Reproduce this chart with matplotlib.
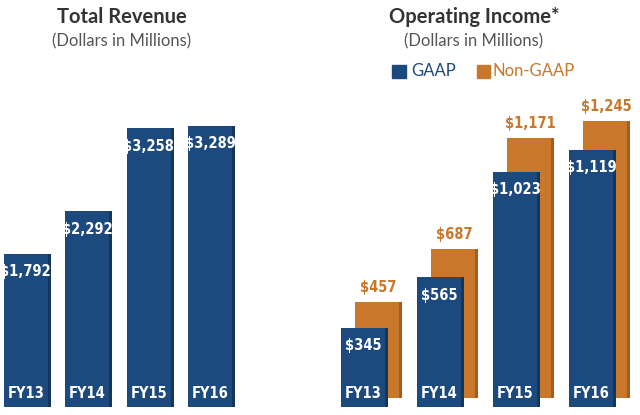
import matplotlib
matplotlib.use("Agg")
import matplotlib.pyplot as plt
import numpy as np

years = ["FY13", "FY14", "FY15", "FY16"]
revenue = [1792, 2292, 3258, 3289]
gaap = [345, 565, 1023, 1119]
non_gaap = [457, 687, 1171, 1245]

blue = "#1d4a7e"
blue_dark = "#143659"
orange = "#c9772b"
orange_dark = "#a35e1e"
grey = "#555555"
title_col = "#333333"

W, H = 640, 415
fig = plt.figure(figsize=(W / 100, H / 100), dpi=100)
fig.patch.set_facecolor("white")

narrow = ["DejaVu Sans"]
body = ["Lato", "DejaVu Sans"]
lab_kw = dict(fontsize=10.5, fontweight="bold", family=narrow, fontstretch="condensed",
              zorder=5, ha="center", va="center")


def px_axes(x0, y_top, w, h):
    # pixel box (from top-left) -> figure fraction
    return fig.add_axes([x0 / W, (H - y_top - h) / H, w / W, h / H])


def fmt(v):
    return "${:,}".format(v)


def draw_bars(ax, x, vals, width, col, side, bottom=0):
    ax.bar(x, vals, width=width, bottom=bottom, color=col, zorder=3, linewidth=0)
    sw = width * 0.06
    ax.bar(x + width / 2 - sw / 2, vals, width=sw, bottom=bottom, color=side,
           zorder=4, linewidth=0)


# ---- left panel: total revenue ----
step_l = 61.5
ax1 = px_axes(0, 7, 246, 400)
ax1.set_xlim(-27 / step_l, (246 - 27) / step_l)
scale_l = 0.0855
ax1.set_ylim(0, 400 / scale_l)
ax1.axis("off")
x = np.arange(len(years))
wl = 47 / step_l
draw_bars(ax1, x, revenue, wl, blue, blue_dark)
for xi, v, yr in zip(x, revenue, years):
    ax1.text(xi - 0.02, v - 18 / scale_l, fmt(v), color="white", **lab_kw)
    ax1.text(xi - 0.02, 14 / scale_l, yr, color="white", **lab_kw)

fig.text(122 / W, 1 - 17 / H, "Total Revenue", ha="center", va="center",
         fontsize=14.5, fontweight="bold", color=title_col, family=body)
fig.text(122 / W, 1 - 41 / H, "(Dollars in Millions)", ha="center", va="center",
         fontsize=12, color=grey, family=body)

# ---- right panel: operating income ----
step_r = 76
ax2 = px_axes(320, 7, 320, 400)
ax2.set_xlim(-44.5 / step_r, (320 - 44.5) / step_r)
scale_r = 0.23
ax2.set_ylim(0, 400 / scale_r)
ax2.axis("off")
wr = 47 / step_r
dx = 14 / step_r
dy = 9 / scale_r
ng = np.array(non_gaap) - dy
draw_bars(ax2, x + dx, ng, wr, orange, orange_dark, bottom=dy)
draw_bars(ax2, x, gaap, wr, blue, blue_dark)
for xi, v, yr in zip(x, gaap, years):
    ax2.text(xi - 0.02, v - 18 / scale_r, fmt(v), color="white", **lab_kw)
    ax2.text(xi - 0.02, 14 / scale_r, yr, color="white", **lab_kw)
for xi, v in zip(x, non_gaap):
    ax2.text(xi + dx, v + 14 / scale_r, fmt(v), color=orange, **lab_kw)

fig.text(474 / W, 1 - 17 / H, "Operating Income*", ha="center", va="center",
         fontsize=14.5, fontweight="bold", color=title_col, family=body)
fig.text(474 / W, 1 - 41 / H, "(Dollars in Millions)", ha="center", va="center",
         fontsize=12, color=grey, family=body)

# legend
fig.patches.append(plt.Rectangle((392 / W, 1 - 78 / H), 14 / W, 13 / H,
                                 transform=fig.transFigure, color=blue))
fig.text(411 / W, 1 - 71 / H, "GAAP", ha="left", va="center", fontsize=12,
         color=blue, family=body)
fig.patches.append(plt.Rectangle((477 / W, 1 - 78 / H), 13 / W, 13 / H,
                                 transform=fig.transFigure, color=orange))
fig.text(493 / W, 1 - 71 / H, "Non-GAAP", ha="left", va="center", fontsize=12,
         color=orange, family=body)

fig.savefig("out.png", dpi=100, facecolor="white")
